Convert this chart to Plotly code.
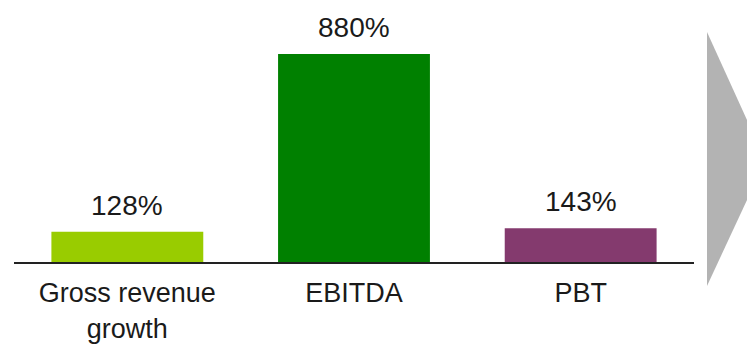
import plotly.graph_objects as go

categories = ["Gross revenue<br>growth", "EBITDA", "PBT"]
values = [128, 880, 143]
labels = ["128%", "880%", "143%"]
colors = ["#99CC00", "#008000", "#843A6E"]

FONT = "Liberation Sans, Arial, sans-serif"

fig = go.Figure(
    go.Bar(
        x=categories,
        y=values,
        marker=dict(color=colors, line=dict(width=0)),
        width=0.67,
        hoverinfo="skip",
    )
)

# value labels above each bar
for cat, val, lab in zip(categories, values, labels):
    fig.add_annotation(
        x=cat, y=val, text=lab, showarrow=False,
        yanchor="bottom", yshift=9,
        font=dict(family=FONT, size=28, color="#1a1a1a"),
    )

# grey arrow head to the right of the plot area
fig.add_shape(
    type="path", xref="paper", yref="paper",
    path="M 1.0191 0.8779 L 1.08 0.5305 L 1.08 0.2481 L 1.0191 -0.0916 Z",
    fillcolor="#B3B3B3", line=dict(width=0), layer="above",
)

fig.update_layout(
    width=747, height=350,
    margin=dict(l=14, r=53, t=0, b=88),
    paper_bgcolor="white", plot_bgcolor="white",
    showlegend=False,
    xaxis=dict(
        range=[-0.5, 2.5], showline=True, linecolor="#222222", linewidth=2,
        showgrid=False, zeroline=False, ticks="",
        tickfont=dict(family=FONT, size=27, color="#1a1a1a"),
        ticklabelstandoff=6,
        fixedrange=True,
    ),
    yaxis=dict(range=[0, 1108.5], visible=False, fixedrange=True),
)

fig.write_html("out.html")
